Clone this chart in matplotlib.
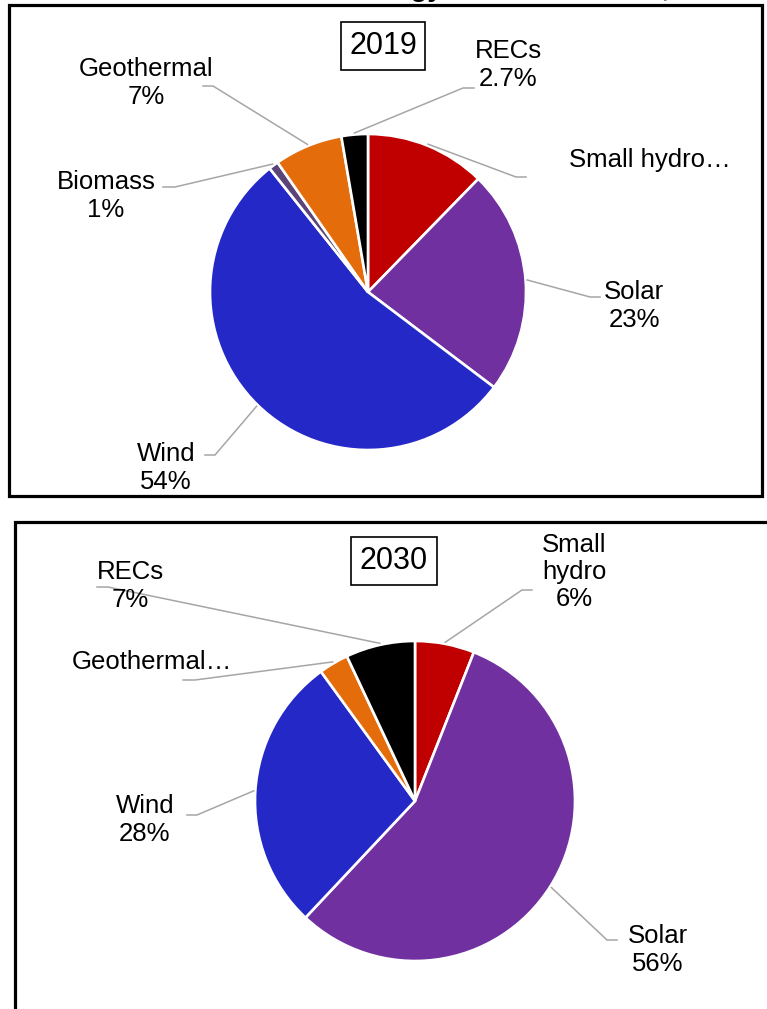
import matplotlib
matplotlib.use("Agg")
import matplotlib.pyplot as plt
from matplotlib.patches import Rectangle
import numpy as np

plt.rcParams['font.family'] = ['Liberation Sans', 'DejaVu Sans']

# ---- data -------------------------------------------------------------
title_text = "Renewable Energy Resource Share, 2019 and 2030"

categories_2019 = ["Small hydro", "Solar", "Wind", "Biomass", "Geothermal", "RECs"]
shares_2019 = [12.3, 23, 54, 1, 7, 2.7]
truncated_2019 = [True, False, False, False, False, False]

categories_2030 = ["Small hydro", "Solar", "Wind", "Geothermal", "RECs"]
shares_2030 = [6, 56, 28, 3, 7]
truncated_2030 = [False, False, False, True, False]

colors = {
    "Small hydro": "#C00000",
    "Solar": "#7030A0",
    "Wind": "#2428C6",
    "Biomass": "#5B4578",
    "Geothermal": "#E46C0A",
    "RECs": "#000000",
}

# ---- layout (pixel coordinates, y measured from the top) ---------------
W, H = 767, 1009
LABEL_FS = 18.5
LEADER = "#A6A6A6"

layout_2019 = {
    "center": (368, 292), "radius": 158, "year": "2019", "year_pos": (383, 46),
    "Small hydro": dict(elbow=(516, 177), end=(526, 177), text=(650, 160)),
    "Solar": dict(elbow=(590, 297), end=(600, 297), text=(634, 306)),
    "Wind": dict(elbow=(215, 455), end=(205, 455), text=(166, 468)),
    "Biomass": dict(elbow=(175, 187), end=(163, 187), text=(106, 196)),
    "Geothermal": dict(elbow=(213, 86), end=(203, 86), text=(146, 83)),
    "RECs": dict(elbow=(463, 88), end=(474, 88), text=(508, 65)),
}

layout_2030 = {
    "center": (415, 801), "radius": 160, "year": "2030", "year_pos": (394, 561),
    "Small hydro": dict(elbow=(522, 590), end=(532, 590), text=(574, 572)),
    "Solar": dict(elbow=(607, 940), end=(617, 940), text=(658, 950)),
    "Wind": dict(elbow=(197, 815), end=(187, 815), text=(145, 820)),
    "Geothermal": dict(elbow=(195, 680), end=(183, 680), text=(152, 662)),
    "RECs": dict(elbow=(108, 587), end=(97, 587), text=(130, 586)),
}


def Y(y):
    return H - y


def label_for(name, value, truncated, split_words=False):
    if truncated:
        return name + "\u2026"
    head = name.replace(" ", "\n") if split_words else name
    return f"{head}\n{value:g}%"


fig = plt.figure(figsize=(W / 100, H / 100), dpi=100)
ax = fig.add_axes([0, 0, 1, 1])


def draw_pie(cats, values, truncs, lay, split_words=()):
    cx, cy = lay["center"]
    r = lay["radius"]
    wedges, _ = ax.pie(
        values,
        colors=[colors[c] for c in cats],
        startangle=90,
        counterclock=False,
        center=(cx, Y(cy)),
        radius=r,
        wedgeprops=dict(edgecolor="white", linewidth=1.9),
    )
    for w, name, val, tr in zip(wedges, cats, values, truncs):
        spec = lay[name]
        mid = np.deg2rad((w.theta1 + w.theta2) / 2)
        ax0 = cx + r * 1.01 * np.cos(mid)
        ay0 = Y(cy) + r * 1.01 * np.sin(mid)
        ex, ey = spec["elbow"]
        tx, ty = spec["end"]
        ax.plot([ax0, ex, tx], [ay0, Y(ey), Y(ty)], color=LEADER, lw=1.1,
                solid_joinstyle="miter", zorder=1)
        txt = label_for(name, val, tr, split_words=name in split_words)
        ax.text(spec["text"][0], Y(spec["text"][1]), txt, fontsize=LABEL_FS,
                ha="center", va="center", linespacing=1.18, color="black")
    yx, yy = lay["year_pos"]
    ax.text(yx, Y(yy), lay["year"], fontsize=22, ha="center", va="center",
            bbox=dict(boxstyle="square,pad=0.28", facecolor="white",
                      edgecolor="black", linewidth=1.2))


draw_pie(categories_2019, shares_2019, truncated_2019, layout_2019)
draw_pie(categories_2030, shares_2030, truncated_2030, layout_2030,
         split_words=("Small hydro",))

# chart frames
ax.add_patch(Rectangle((8.5, Y(496)), 753, 491, fill=False,
                       edgecolor="black", linewidth=2.3, zorder=5))
ax.plot([14.5, 14.5, W + 5], [Y(H + 5), Y(521.5), Y(521.5)], color="black",
        lw=2.3, solid_joinstyle="miter", zorder=5)

# overall title, sitting mostly above the top edge of the page
ax.text(196, Y(-4), title_text, fontsize=20, fontweight="bold",
        ha="left", va="baseline", clip_on=False)

ax.set_xlim(0, W)
ax.set_ylim(0, H)
ax.set_aspect("auto")
ax.axis("off")

fig.savefig("out.png", dpi=100)
